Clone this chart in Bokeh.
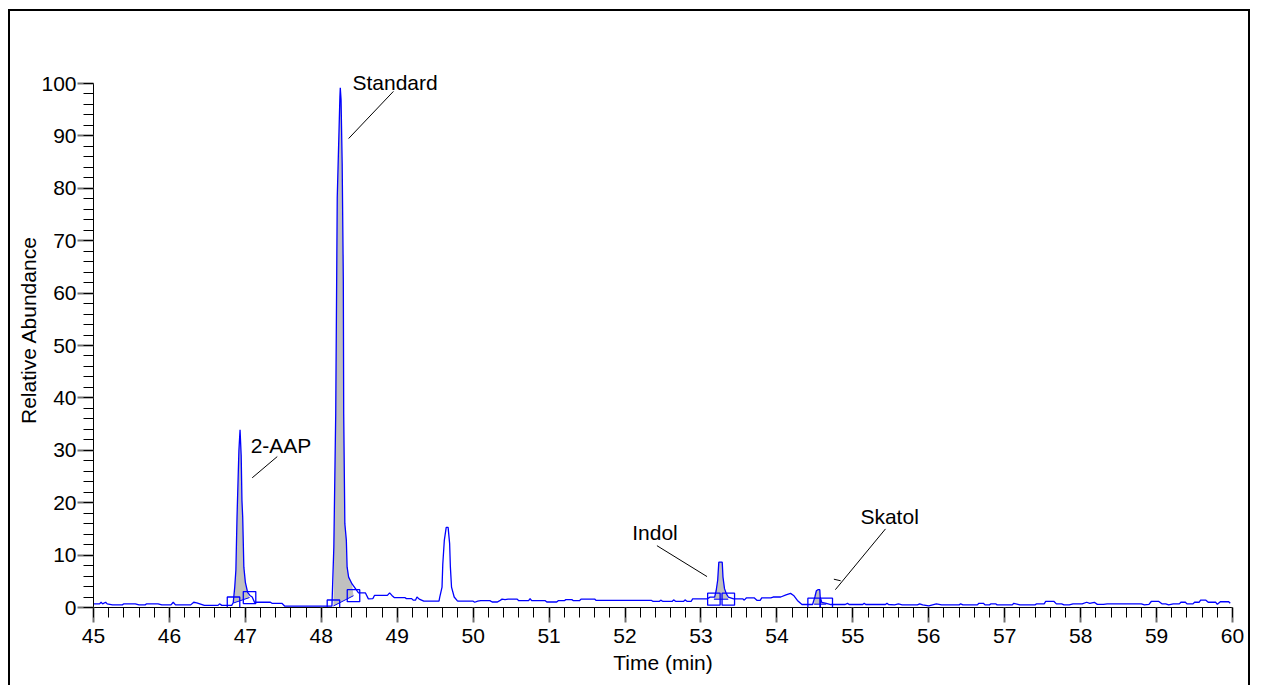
from bokeh.plotting import figure
from bokeh.models import Label, SingleIntervalTicker, Range1d
from bokeh.embed import file_html
from bokeh.resources import INLINE

# ---- chromatogram trace (time in min, relative abundance %) ----
time = [45.00, 45.08, 45.10, 45.12, 45.16, 45.18, 45.25, 45.38, 45.40, 45.55, 45.60, 45.68, 45.70, 45.85,
        45.90, 46.02, 46.05, 46.08, 46.28, 46.32, 46.36, 46.40, 46.46, 46.64, 46.66, 46.69, 46.82, 46.84,
        46.86, 46.875, 46.89, 46.915, 46.93, 46.945, 46.955, 46.965, 46.98, 47.00, 47.03, 47.06, 47.09,
        47.12, 47.33, 47.35, 47.48, 47.52, 48.14, 48.165, 48.19, 48.21, 48.245, 48.25, 48.26, 48.275,
        48.29, 48.295, 48.31, 48.33, 48.34, 48.36, 48.405, 48.45, 48.49, 48.58, 48.62, 48.68, 48.70,
        48.87, 48.90, 48.93, 48.96, 49.10, 49.12, 49.19, 49.21, 49.24, 49.26, 49.29, 49.35, 49.55, 49.56,
        49.59, 49.60, 49.62, 49.645, 49.67, 49.69, 49.70, 49.715, 49.75, 49.79, 49.80, 50.00, 50.02,
        50.06, 50.10, 50.22, 50.25, 50.32, 50.35, 50.38, 50.42, 50.46, 50.58, 50.60, 50.73, 50.75, 50.77,
        50.95, 50.97, 51.10, 51.12, 51.20, 51.22, 51.30, 51.32, 51.40, 51.42, 51.60, 51.62, 51.80, 52.35,
        52.37, 52.45, 52.47, 52.50, 52.62, 52.64, 52.67, 52.77, 52.79, 52.82, 52.87, 52.89, 53.08, 53.12,
        53.18, 53.20, 53.22, 53.235, 53.28, 53.29, 53.31, 53.335, 53.36, 53.43, 53.55, 53.57, 53.60,
        53.70, 53.74, 53.78, 53.80, 53.92, 53.95, 54.05, 54.12, 54.18, 54.22, 54.27, 54.33, 54.47, 54.50,
        54.52, 54.54, 54.565, 54.57, 54.59, 54.65, 54.71, 54.90, 54.93, 54.95, 55.13, 55.15, 55.17, 55.43,
        55.45, 55.47, 55.55, 55.60, 55.65, 55.85, 55.88, 55.92, 56.00, 56.05, 56.10, 56.17, 56.40, 56.42,
        56.45, 56.64, 56.66, 56.72, 56.74, 56.80, 56.82, 56.88, 56.90, 57.00, 57.10, 57.12, 57.20, 57.40,
        57.42, 57.52, 57.54, 57.65, 57.68, 57.75, 57.78, 57.85, 57.90, 58.02, 58.08, 58.12, 58.18, 58.22,
        58.30, 58.35, 58.55, 58.80, 58.84, 58.90, 58.93, 59.03, 59.07, 59.12, 59.16, 59.22, 59.30, 59.32,
        59.38, 59.40, 59.48, 59.50, 59.56, 59.58, 59.65, 59.68, 59.78, 59.80, 59.84, 59.95, 59.97]
abundance = [0.7, 0.7, 1.0, 0.7, 1.0, 0.7, 0.5, 0.5, 0.7, 0.7, 0.5, 0.5, 0.7, 0.7,
             0.5, 0.5, 1.0, 0.5, 0.5, 1.0, 0.9, 0.7, 0.4, 0.4, 0.7, 0.4, 0.4, 0.9,
             3.9, 7.1, 17.2, 30.0, 33.9, 29.0, 20.4, 17.2, 7.7, 4.8, 2.9, 2.3, 2.0,
             1.0, 1.0, 0.8, 0.8, 0.25, 0.25, 11.5, 37.0, 78.3, 97.4, 99.2, 97.0, 84.7,
             62.4, 37.0, 16.0, 12.8, 7.7, 5.8, 4.5, 3.6, 2.8, 2.8, 1.65, 1.7, 2.3,
             2.3, 2.8, 2.3, 1.9, 1.9, 1.7, 1.7, 1.4, 1.4, 2.0, 1.6, 1.2, 1.2, 2.0,
             3.9, 8.3, 12.8, 15.3, 15.3, 12.2, 7.7, 3.9, 2.0, 1.3, 1.2, 1.2, 1.0,
             1.2, 1.3, 1.3, 1.05, 1.05, 1.3, 1.6, 1.5, 1.6, 1.6, 1.3, 1.3, 1.7, 1.3,
             1.3, 1.05, 1.05, 1.3, 1.3, 1.5, 1.5, 1.3, 1.3, 1.6, 1.6, 1.35, 1.35, 1.35,
             1.15, 1.15, 1.4, 1.15, 1.15, 1.45, 1.15, 1.15, 1.45, 1.15, 1.15, 1.65, 1.65, 1.97,
             1.97, 3.2, 5.2, 8.65, 8.65, 5.8, 3.6, 2.6, 2.0, 1.65, 1.65, 1.4, 1.85,
             1.85, 1.35, 1.35, 1.85, 1.85, 2.0, 2.0, 2.4, 2.7, 2.3, 1.35, 0.57, 0.57, 2.0,
             3.2, 3.4, 3.4, 2.0, 1.0, 0.8, 0.57, 0.57, 0.8, 0.57, 0.57, 0.8, 0.57, 0.57,
             0.8, 0.57, 0.5, 0.7, 0.5, 0.5, 0.7, 0.5, 0.3, 0.5, 0.7, 0.5, 0.5, 0.7,
             0.5, 0.5, 0.8, 0.8, 0.5, 0.5, 0.7, 0.7, 0.5, 0.5, 0.5, 0.8, 0.5, 0.5,
             0.7, 0.7, 1.15, 1.15, 0.7, 0.7, 0.5, 0.5, 0.7, 0.7, 1.0, 0.8, 1.0, 0.6,
             0.6, 0.7, 0.7, 0.7, 0.5, 0.6, 1.15, 1.15, 0.7, 0.7, 0.5, 0.7, 0.7, 1.0,
             1.0, 0.7, 0.7, 1.0, 1.0, 1.4, 1.4, 1.0, 1.0, 0.6, 1.1, 1.1, 0.8]

# ---- integrated peaks: start / end points of the integration baseline ----
peak_names = ["2-AAP", "Standard", "Indol", "Skatol"]
peak_start_t = [46.844, 48.16, 53.17, 54.49]
peak_start_v = [0.86, 0.29, 1.58, 0.63]
peak_end_t = [47.055, 48.424, 53.36, 54.65]
peak_end_v = [1.9, 2.25, 1.58, 0.63]

# ---- annotation labels (text anchor, left-middle) and leader lines ----
label_t = [47.07, 48.41, 52.095, 55.10]
label_v = [30.9, 100.2, 14.4, 17.4]
leader_t0 = [47.42, 48.95, 52.42, 55.43, 54.75]
leader_v0 = [28.8, 98.5, 11.8, 15.0, 5.4]
leader_t1 = [47.09, 48.36, 53.08, 54.77, 54.84]
leader_v1 = [24.75, 89.5, 5.9, 3.4, 5.1]

FONT = "Liberation Sans"
FSIZE = "21px"
BLUE = "#0000ff"

p = figure(width=1242, height=676, x_range=Range1d(45, 60), y_range=Range1d(0, 100 * 555 / 524),
           output_backend="svg", toolbar_location=None,
           min_border_left=83, min_border_right=20, min_border_top=41, min_border_bottom=80)
p.styles = {"border-top": "2px solid black", "border-left": "2px solid black",
            "border-right": "2px solid black", "margin-left": "8px", "margin-top": "9px"}
p.outline_line_color = None
p.xgrid.visible = False
p.ygrid.visible = False
p.background_fill_color = "white"
p.border_fill_color = "white"

# fills under integrated peaks
for ts, vs, te, ve in zip(peak_start_t, peak_start_v, peak_end_t, peak_end_v):
    xs = [ts] + [t for t in time if ts < t < te] + [te]
    ys = [vs] + [v for t, v in zip(time, abundance) if ts < t < te] + [ve]
    p.patch(xs, ys, fill_color="#c0c0c0", line_color=None)

# integration baselines
p.segment(x0=peak_start_t, y0=peak_start_v, x1=peak_end_t, y1=peak_end_v,
          line_color=BLUE, line_width=1)

# trace
p.line(time, abundance, line_color=BLUE, line_width=1.3)

# boxes at peak start/end
p.rect(x=peak_start_t + peak_end_t, y=peak_start_v + peak_end_v, width=12.5, height=12,
       width_units="screen", height_units="screen", fill_color=None, line_color=BLUE, line_width=1.3)

# leader lines
p.segment(x0=leader_t0, y0=leader_v0, x1=leader_t1, y1=leader_v1, line_color="black", line_width=1)

for name, t, v in zip(peak_names, label_t, label_v):
    p.add_layout(Label(x=t, y=v, text=name, text_font=FONT, text_font_size=FSIZE,
                       text_align="left", text_baseline="middle", text_color="black"))

# axes
xa = p.xaxis[0]
xa.ticker = SingleIntervalTicker(interval=1, num_minor_ticks=5)
ya = p.yaxis[0]
ya.ticker = SingleIntervalTicker(interval=10, num_minor_ticks=5)
ya.bounds = (0, 100)
for ax in (xa, ya):
    ax.axis_line_color = "black"
    ax.axis_line_width = 1
    ax.major_tick_in = 0
    ax.minor_tick_in = 0
    ax.major_tick_line_color = "#707070"
    ax.major_tick_line_width = 2
    ax.minor_tick_line_color = "black"
    ax.minor_tick_line_width = 1
    ax.major_label_text_font = FONT
    ax.major_label_text_font_size = FSIZE
    ax.major_label_text_color = "black"
    ax.axis_label_text_font = FONT
    ax.axis_label_text_font_size = FSIZE
    ax.axis_label_text_font_style = "normal"
    ax.axis_label_text_color = "black"
xa.major_tick_out = 15
xa.minor_tick_out = 10
xa.major_label_standoff = 6
xa.axis_label = "Time (min)"
xa.axis_label_standoff = 5
ya.major_tick_out = 16
ya.minor_tick_out = 10
ya.major_label_standoff = 1
ya.axis_label = "Relative Abundance"
ya.axis_label_standoff = -2

open("out.html", "w").write(file_html(p, INLINE))
